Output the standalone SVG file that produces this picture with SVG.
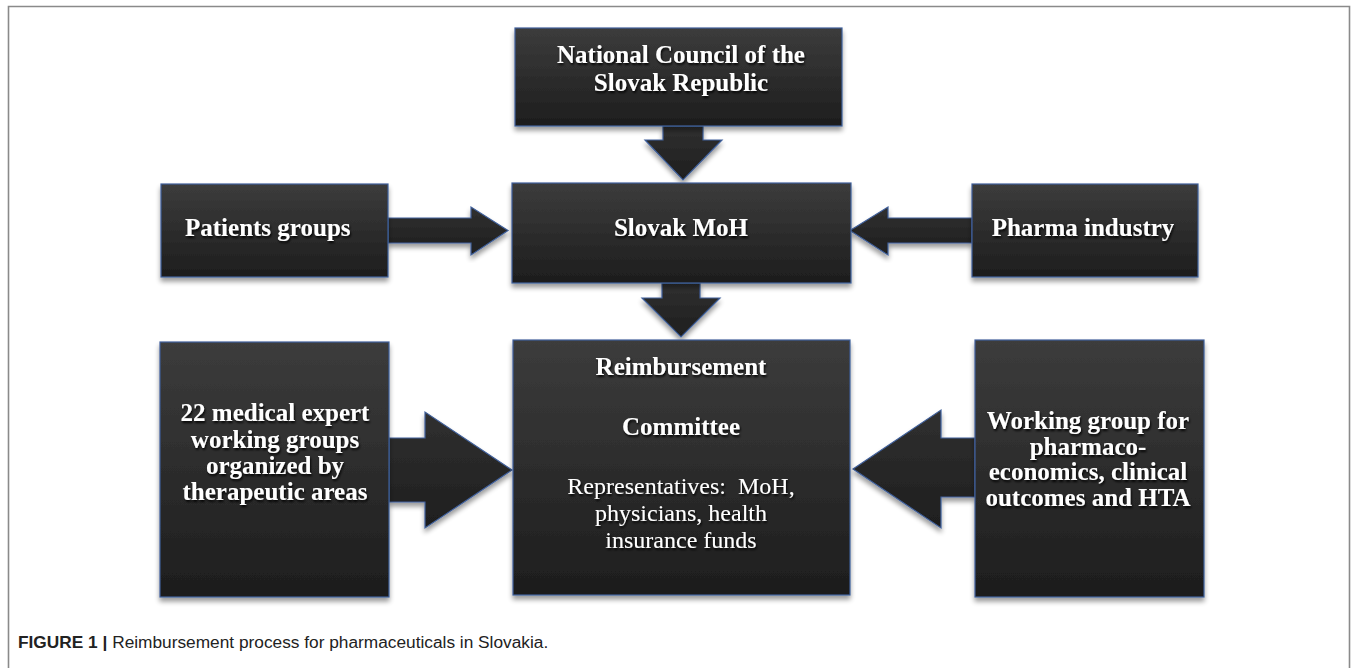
<svg xmlns="http://www.w3.org/2000/svg" width="1355" height="668" viewBox="0 0 1355 668">
<defs>
  <linearGradient id="boxg" x1="0" y1="0" x2="0" y2="1">
    <stop offset="0" stop-color="#3c3c3c"/>
    <stop offset="1" stop-color="#1d1d1d"/>
  </linearGradient>
  <linearGradient id="arrg" x1="0" y1="0" x2="0" y2="1">
    <stop offset="0" stop-color="#303030"/>
    <stop offset="1" stop-color="#1e1e1e"/>
  </linearGradient>
  <filter id="sh" x="-10%" y="-10%" width="120%" height="125%">
    <feGaussianBlur in="SourceAlpha" stdDeviation="2.5"/>
    <feOffset dx="0" dy="4" result="b"/>
    <feComponentTransfer><feFuncA type="linear" slope="0.4"/></feComponentTransfer>
    <feMerge><feMergeNode/><feMergeNode in="SourceGraphic"/></feMerge>
  </filter>
  <filter id="tsh" x="-5%" y="-20%" width="110%" height="140%">
    <feGaussianBlur in="SourceAlpha" stdDeviation="0.8"/>
    <feOffset dx="1" dy="1.5"/>
    <feComponentTransfer><feFuncA type="linear" slope="0.9"/></feComponentTransfer>
    <feMerge><feMergeNode/><feMergeNode in="SourceGraphic"/></feMerge>
  </filter>
</defs>
<style>
  .box{fill:url(#boxg);stroke:#3f5f9a;stroke-width:1.2;filter:url(#sh)}
  .arr{fill:url(#arrg);stroke:#3f5f9a;stroke-width:1.2;filter:url(#sh)}
  .t{font-family:"Liberation Serif","Times New Roman",serif;font-weight:bold;font-size:25px;fill:#ffffff;text-anchor:middle;filter:url(#tsh)}
  .r{font-family:"Liberation Serif","Times New Roman",serif;font-size:24px;fill:#ffffff;text-anchor:middle;filter:url(#tsh);white-space:pre}
  .cap{font-family:"Liberation Sans",Arial,sans-serif;font-size:17.3px;fill:#222}
</style>
<rect width="1355" height="668" fill="#ffffff"/>
<path d="M8.5 668 V6.5 H1349.5 V668" fill="none" stroke="#8a8a8a" stroke-width="1.6"/>

<g id="connectors">
  <path class="arr" d="M663 126 H703 V140 H722 L683 180 L645 140 H663 Z"/>
  <path class="arr" d="M662 283 H700 V298 H720 L681 337 L642 298 H662 Z"/>
  <path class="arr" d="M388 218 H471 V207 L508 230.5 L471 255 V243 H388 Z"/>
  <path class="arr" d="M972 218 H888 V207 L850 230.5 L888 255 V243 H972 Z"/>
  <path class="arr" d="M389 438 H425 V412 L512 470 L425 528 V502 H389 Z"/>
  <path class="arr" d="M975 438 H941 V410 L853 469 L941 528 V497 H975 Z"/>
</g>

<g id="node-national">
  <rect class="box" x="515" y="28" width="327" height="98"/>
  <text class="t" x="681" y="63">National Council of the</text>
  <text class="t" x="681" y="91">Slovak Republic</text>
</g>
<g id="node-moh">
  <rect class="box" x="512" y="183" width="339" height="100"/>
  <text class="t" x="681" y="236">Slovak MoH</text>
</g>
<g id="node-patients">
  <rect class="box" x="161" y="184" width="227" height="93"/>
  <text class="t" x="185" y="236" style="text-anchor:start">Patients groups</text>
</g>
<g id="node-pharma">
  <rect class="box" x="972" y="184" width="226" height="93"/>
  <text class="t" x="1083" y="236">Pharma industry</text>
</g>
<g id="node-experts">
  <rect class="box" x="160" y="342" width="229" height="255"/>
  <text class="t" x="275" y="421">22 medical expert</text>
  <text class="t" x="275" y="448">working groups</text>
  <text class="t" x="275" y="474">organized by</text>
  <text class="t" x="275" y="500">therapeutic areas</text>
</g>
<g id="node-committee">
  <rect class="box" x="513" y="340" width="337" height="255"/>
  <text class="t" x="681" y="375">Reimbursement</text>
  <text class="t" x="681" y="435">Committee</text>
  <text class="r" x="681" y="494">Representatives:  MoH,</text>
  <text class="r" x="681" y="521">physicians, health</text>
  <text class="r" x="681" y="548">insurance funds</text>
</g>
<g id="node-hta">
  <rect class="box" x="975" y="340" width="229" height="257"/>
  <text class="t" x="1088" y="429">Working group for</text>
  <text class="t" x="1088" y="455">pharmaco-</text>
  <text class="t" x="1088" y="480">economics, clinical</text>
  <text class="t" x="1088" y="506">outcomes and HTA</text>
</g>

<text class="cap" x="18" y="648"><tspan font-weight="bold">FIGURE 1 |</tspan> Reimbursement process for pharmaceuticals in Slovakia.</text>
</svg>
